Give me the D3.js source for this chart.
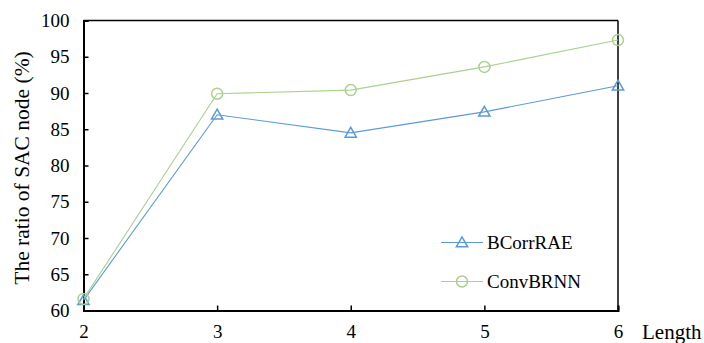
<!DOCTYPE html>
<html><head><meta charset="utf-8">
<script src="https://cdn.jsdelivr.net/npm/d3@7"></script>
<style>body{margin:0;background:#fff}svg{display:block}</style>
</head><body><svg id="c" width="704" height="343"></svg>
<script>
const lengths = [2, 3, 4, 5, 6];
const bcorrrae = [61.4, 87.0, 84.5, 87.4, 91.0];
const convbrnn = [61.6, 89.9, 90.4, 93.6, 97.3];
const yTicks = [60, 65, 70, 75, 80, 85, 90, 95, 100];
const seriesNames = ["BCorrRAE", "ConvBRNN"];
const FONT = '"Liberation Serif"';

const svg = d3.select("#c");
const L = 83.5, R = 618, T = 20.5, B = 310.5;
const x = d3.scaleLinear().domain([2, 6]).range([L, R]);
const y = d3.scaleLinear().domain([60, 100]).range([B, T]);

// frame top/right
svg.append("line").attr("x1", L).attr("x2", R).attr("y1", T).attr("y2", T).attr("stroke", "#000").attr("stroke-width", 1.5);
svg.append("line").attr("x1", R).attr("x2", R).attr("y1", T).attr("y2", B).attr("stroke", "#000").attr("stroke-width", 1.5);

// y axis
const ya = svg.append("g").attr("transform", `translate(${L},0)`)
  .call(d3.axisLeft(y).tickValues(yTicks).tickSize(-5).tickPadding(14));
ya.attr("font-family", null);
ya.select(".domain").attr("stroke-width", 2);
ya.selectAll(".tick line").attr("stroke-width", 1.5);
ya.selectAll(".tick text").attr("font-size", 19).style("font-family", FONT).attr("fill", "#000");

// x axis
const xa = svg.append("g").attr("transform", `translate(0,${B})`)
  .call(d3.axisBottom(x).tickValues(lengths).tickSize(-5).tickPadding(14).tickFormat(d3.format("d")));
xa.attr("font-family", null);
xa.select(".domain").attr("stroke-width", 2);
xa.selectAll(".tick line").attr("stroke-width", 1.5);
xa.selectAll(".tick text").attr("font-size", 19).style("font-family", FONT).attr("fill", "#000");

svg.append("text").attr("x", 642).attr("y", 339).attr("font-size", 21).style("font-family", FONT).text("Length");
svg.append("text").attr("transform", "translate(29,168) rotate(-90)").attr("text-anchor", "middle")
  .attr("font-size", 21.5).style("font-family", FONT).text("The ratio of SAC node (%)");

const colors = ["#5B9BD5", "#A9D18E"];
const data = [bcorrrae, convbrnn];
const line = d3.line().x((d, i) => x(lengths[i])).y(d => y(d));
const tri = d3.symbol().type(d3.symbolTriangle).size(55);

function marker(g, k, cx, cy) {
  if (k === 0) {
    g.append("path").attr("d", tri()).attr("transform", `translate(${cx},${cy + 1})`)
      .attr("fill", "none").attr("stroke", colors[0]).attr("stroke-width", 1.5);
  } else {
    g.append("circle").attr("cx", cx).attr("cy", cy).attr("r", 5.5)
      .attr("fill", "none").attr("stroke", colors[1]).attr("stroke-width", 1.5);
  }
}

data.forEach((vals, k) => {
  svg.append("path").datum(vals).attr("d", line).attr("fill", "none").attr("stroke", colors[k]).attr("stroke-width", 1.1);
  const g = svg.append("g");
  vals.forEach((v, i) => marker(g, k, x(lengths[i]), y(v)));
});

// legend
seriesNames.forEach((name, k) => {
  const ly = 242.5 + k * 39;
  svg.append("line").attr("x1", 441).attr("x2", 483).attr("y1", ly).attr("y2", ly).attr("stroke", colors[k]).attr("stroke-width", 1.1);
  marker(svg.append("g"), k, 462, ly);
  svg.append("text").attr("x", 487).attr("y", ly + 6.5).attr("font-size", 19).style("font-family", FONT).text(name);
});
</script></body></html>
